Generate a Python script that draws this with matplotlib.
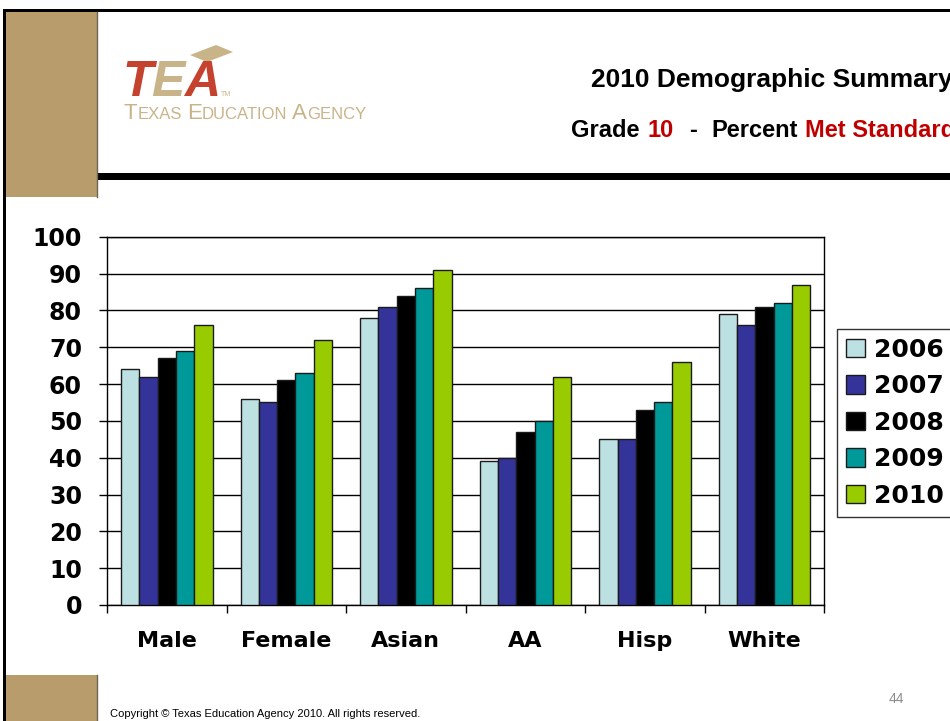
import numpy as np
import matplotlib
matplotlib.use("Agg")
import matplotlib.pyplot as plt
from matplotlib.patches import Rectangle, Polygon

# ------------------ data ------------------
categories = ["Male", "Female", "Asian", "AA", "Hisp", "White"]
years = ["2006", "2007", "2008", "2009", "2010"]
pct_2006 = [64, 56, 78, 39, 45, 79]
pct_2007 = [62, 55, 81, 40, 45, 76]
pct_2008 = [67, 61, 84, 47, 53, 81]
pct_2009 = [69, 63, 86, 50, 55, 82]
pct_2010 = [76, 72, 91, 62, 66, 87]
series = [pct_2006, pct_2007, pct_2008, pct_2009, pct_2010]
yticks = list(range(0, 101, 10))

# ------------------ style ------------------
bar_colors = ["#BDE0E3", "#333399", "#000000", "#009999", "#99CC00"]
TAN = "#B89C6C"
LOGO_TAN = "#C9B48A"
LOGO_RED = "#C4422E"
RED = "#C00000"

W, H = 950, 721
fig = plt.figure(figsize=(W / 100, H / 100), dpi=100, facecolor="white")

# background layer in pixel coordinates (y down)
bg = fig.add_axes([0, 0, 1, 1], zorder=0)
bg.set_xlim(0, W)
bg.set_ylim(H, 0)
bg.axis("off")

# slide frame
bg.add_patch(Rectangle((3, 9), W, 3, color="black", lw=0))
bg.add_patch(Rectangle((3, 9), 3, H, color="black", lw=0))
bg.add_patch(Rectangle((6, 12), 91, 185, facecolor=TAN, edgecolor="none"))
bg.plot([97, 97], [12, 197], color="#6E6552", lw=1)
bg.add_patch(Rectangle((6, 675), 91, 50, facecolor=TAN, edgecolor="none"))
bg.plot([97, 97], [675, H], color="#6E6552", lw=1)
bg.add_patch(Rectangle((97, 173), W, 7, color="black", lw=0))

renderer = fig.canvas.get_renderer()


def text_runs(x, y, runs, **kw):
    # draw pieces of text one after another; runs = (text, color, size, gap_after)
    for s, color, size, gap in runs:
        t = bg.text(x, y, s, color=color, fontsize=size, va="baseline", ha="left", **kw)
        bb = t.get_window_extent(renderer=renderer)
        x = bb.x1 + gap
    return x


# logo
sans = ["Liberation Sans", "DejaVu Sans"]
bg.add_patch(Polygon([(190, 55), (216, 45), (233, 52), (207, 62)], closed=True,
                     facecolor=LOGO_TAN, edgecolor="none"))
x_end = text_runs(122, 96, [("T", LOGO_RED, 36, -1), ("E", LOGO_TAN, 36, -1), ("A", LOGO_RED, 36, 1)],
                  family=sans, fontweight="bold", fontstyle="italic")
bg.text(x_end, 96, "TM", color=LOGO_TAN, fontsize=5, va="baseline", family=sans)
big, small = 16, 12
text_runs(124, 119, [("T", LOGO_TAN, big, 0), ("EXAS", LOGO_TAN, small, 5),
                     ("E", LOGO_TAN, big, 0), ("DUCATION", LOGO_TAN, small, 5),
                     ("A", LOGO_TAN, big, 0), ("GENCY", LOGO_TAN, small, 0)],
          family=sans)

# header titles (run off the right edge as on the slide)
bg.text(591, 87, "2010 Demographic Summary", fontsize=19, fontweight="bold",
        family=sans, va="baseline", ha="left")
text_runs(571, 137, [("Grade", "black", 17, 8), ("10", RED, 17, 15), ("-", "black", 17, 15),
                     ("Percent", "black", 17, 7), ("Met Standard", RED, 17, 0)],
          family=sans, fontweight="bold")

# footer
bg.text(110, 717, "Copyright \u00a9 Texas Education Agency 2010. All rights reserved.",
        fontsize=8, family=sans, va="baseline")
bg.text(889, 703, "44", fontsize=10, color="#8C8C8C", family=sans, va="baseline")

# ------------------ chart ------------------
ax = fig.add_axes([107 / W, 1 - 605 / H, 717.3 / W, 368.3 / H], zorder=1)
x = np.arange(len(categories))
bw = 0.153
for i, (vals, col, yr) in enumerate(zip(series, bar_colors, years)):
    ax.bar(x + (i - 2) * bw, vals, width=bw, color=col, edgecolor="#1A1A1A",
           linewidth=1, label=yr, zorder=3)

ax.set_xlim(-0.5, len(categories) - 0.5)
ax.set_ylim(0, 100)
ax.set_yticks(yticks)
ax.set_yticklabels([str(v) for v in yticks], fontsize=17, fontweight="bold")
ax.set_xticks(x)
ax.set_xticklabels(categories, fontsize=16, fontweight="bold")
ax.set_xticks(np.arange(-0.5, len(categories)), minor=True)
ax.tick_params(axis="x", which="major", length=0, pad=19)
ax.tick_params(axis="x", which="minor", length=6, width=1, direction="out")
ax.tick_params(axis="y", length=6, width=1, direction="out", pad=12)
ax.yaxis.grid(True, color="black", linewidth=1, zorder=0)
ax.set_axisbelow(True)
for sp in ax.spines.values():
    sp.set_color("black")
    sp.set_linewidth(1)

leg = fig.legend(loc="upper left", bbox_to_anchor=(837 / W, 1 - 329 / H),
                 bbox_transform=fig.transFigure, borderaxespad=0,
                 prop={"weight": "bold", "size": 18}, handlelength=0.76,
                 handleheight=0.76, handletextpad=0.35, labelspacing=0.5,
                 borderpad=0.35, frameon=True, fancybox=False)
leg.get_frame().set_edgecolor("black")
leg.get_frame().set_linewidth(1)

fig.savefig("out.png", dpi=100, facecolor="white")
